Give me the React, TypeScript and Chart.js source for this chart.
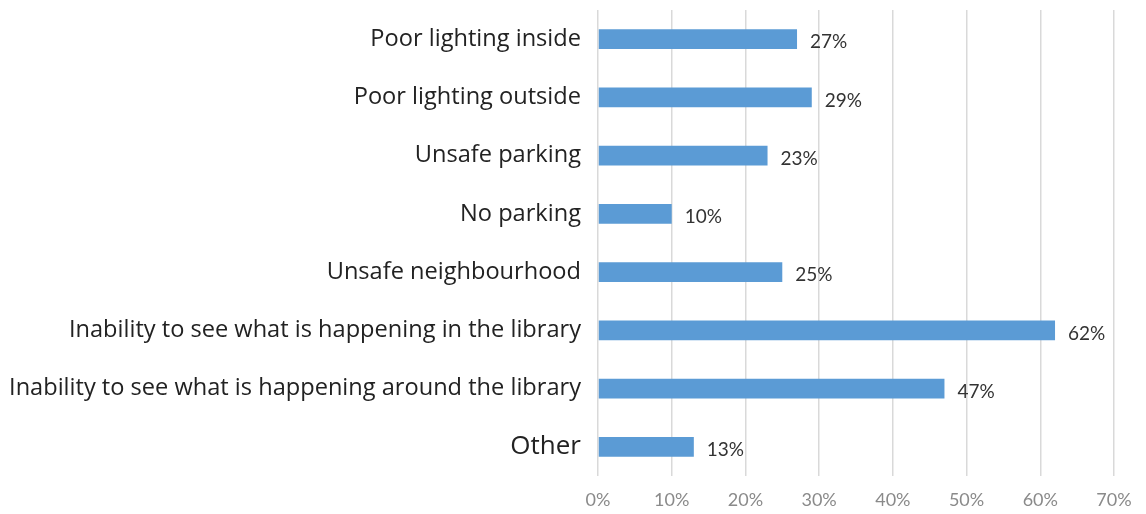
import React, { useEffect, useRef } from "react";
import { Chart, registerables } from "chart.js";

Chart.register(...registerables);

const categories = [
  "Poor lighting inside",
  "Poor lighting outside",
  "Unsafe parking",
  "No parking",
  "Unsafe neighbourhood",
  "Inability to see what is happening in the library",
  "Inability to see what is happening around the library",
  "Other",
];
const values = [27, 29, 23, 10, 25, 62, 47, 13];
const xTicks = [0, 10, 20, 30, 40, 50, 60, 70];

const valueLabels = {
  id: "valueLabels",
  afterDatasetsDraw(chart: any) {
    const ctx = chart.ctx;
    const meta = chart.getDatasetMeta(0);
    ctx.save();
    ctx.font = "19px Lato";
    ctx.fillStyle = "#333333";
    ctx.textAlign = "left";
    ctx.textBaseline = "middle";
    meta.data.forEach((bar: any, i: number) => {
      ctx.fillText(values[i] + "%", bar.x + 13, bar.y + 3);
    });
    ctx.restore();
  },
};

export default function App() {
  const ref = useRef<HTMLCanvasElement>(null);
  useEffect(() => {
    document.body.style.margin = "0";
    const chart = new Chart(ref.current!, {
      type: "bar",
      data: {
        labels: categories,
        datasets: [
          {
            data: values,
            backgroundColor: "#5b9bd5",
            borderWidth: 0,
            barPercentage: 0.34,
            categoryPercentage: 1,
          },
        ],
      },
      options: {
        indexAxis: "y",
        animation: false,
        responsive: false,
        layout: { padding: { left: 0, right: 32, top: 10, bottom: 0 } },
        plugins: { legend: { display: false }, tooltip: { enabled: false } },
        scales: {
          x: {
            min: 0,
            max: 70,
            afterBuildTicks: (s: any) => {
              s.ticks = xTicks.map((v) => ({ value: v }));
            },
            ticks: {
              callback: (v: any) => v + "%",
              color: "#8a8a8a",
              font: { size: 18, family: "Lato" },
              padding: 13,
            },
            grid: { color: "#d9d9d9", drawTicks: false, lineWidth: 1.5 },
            border: { display: false },
            afterFit: (s: any) => {
              s.height = 38;
              s.paddingLeft = 0;
              s.paddingRight = 0;
            },
          },
          y: {
            ticks: {
              color: "#222222",
              font: (c: any) => ({
                size: c.index === 7 ? 26 : 23.6,
                family: "Open Sans",
              }),
              padding: 17,
            },
            grid: { display: false, drawTicks: false },
            border: { display: false },
            afterFit: (s: any) => {
              s.width = 598;
              s.paddingTop = 0;
              s.paddingBottom = 0;
            },
          },
        },
      },
      plugins: [valueLabels],
    });
    return () => chart.destroy();
  }, []);
  return (
    <div style={{ width: 1146, height: 514 }}>
      <canvas ref={ref} width={1146} height={514} />
    </div>
  );
}
